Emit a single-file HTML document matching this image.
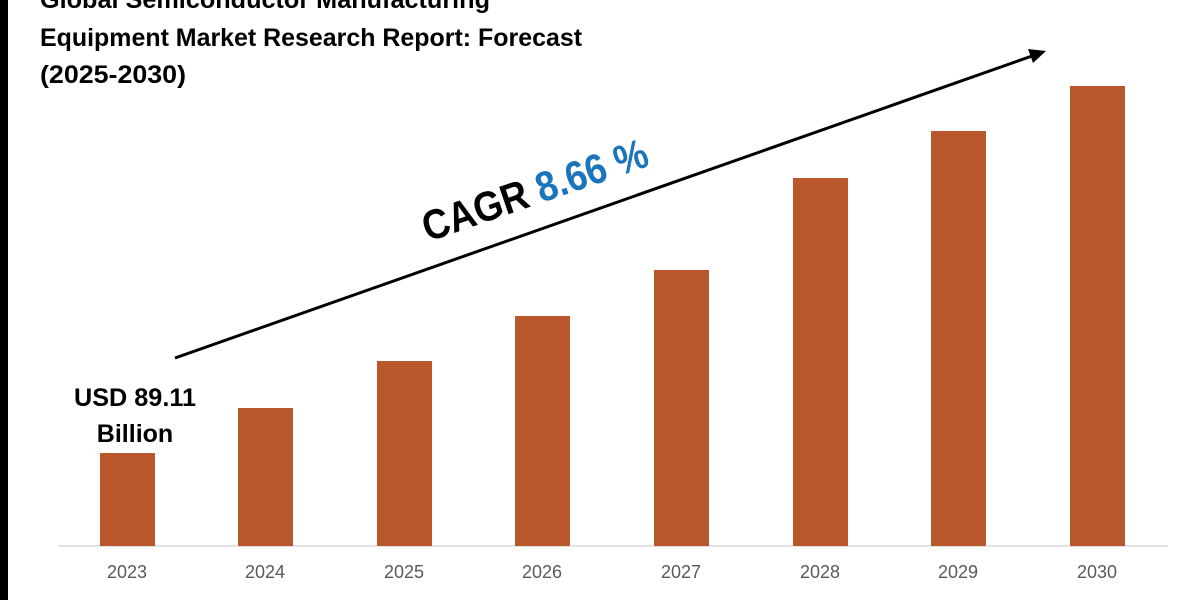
<!DOCTYPE html>
<html><head><meta charset="utf-8"><style>
html,body{margin:0;padding:0;background:#fff;}
body{width:1200px;height:600px;overflow:hidden;position:relative;font-family:"Liberation Sans",sans-serif;}
</style></head><body>
<svg width="1200" height="600" xmlns="http://www.w3.org/2000/svg" style="position:absolute;left:0;top:0">
<rect x="0" y="0" width="8" height="600" fill="#000"/>
<g font-family="Liberation Sans, sans-serif" font-weight="bold" font-size="25" fill="#000">
<text x="40" y="8" textLength="450" lengthAdjust="spacingAndGlyphs">Global Semiconductor Manufacturing</text>
<text x="40" y="46" textLength="542" lengthAdjust="spacingAndGlyphs">Equipment Market Research Report: Forecast</text>
<text x="40" y="83" textLength="146" lengthAdjust="spacingAndGlyphs">(2025-2030)</text>
</g>
<line x1="58" y1="546" x2="1168" y2="546" stroke="#d9d9d9" stroke-width="1.5"/>
<g fill="#b9582c">
<rect x="100" y="453" width="55" height="93"/>
<rect x="238" y="408" width="55" height="138"/>
<rect x="377" y="361" width="55" height="185"/>
<rect x="515" y="316" width="55" height="230"/>
<rect x="654" y="270" width="55" height="276"/>
<rect x="793" y="178" width="55" height="368"/>
<rect x="931" y="131" width="55" height="415"/>
<rect x="1070" y="86" width="55" height="460"/>
</g>
<g font-size="18" fill="#595959" text-anchor="middle">
<text x="127" y="578">2023</text><text x="265" y="578">2024</text><text x="404" y="578">2025</text><text x="542" y="578">2026</text>
<text x="681" y="578">2027</text><text x="820" y="578">2028</text><text x="958" y="578">2029</text><text x="1097" y="578">2030</text>
</g>
<g font-weight="bold" font-size="25" fill="#000" text-anchor="middle">
<text x="135" y="406" textLength="122" lengthAdjust="spacingAndGlyphs">USD 89.11</text>
<text x="135" y="442">Billion</text>
</g>
<line x1="175" y1="358" x2="1032" y2="56" stroke="#000" stroke-width="3"/>
<polygon points="1046,51 1028,49 1033,63" fill="#000"/>
<text transform="translate(428,242) rotate(-19)" font-weight="bold" font-size="42" textLength="236" lengthAdjust="spacingAndGlyphs"><tspan fill="#000">CAGR </tspan><tspan fill="#1a75bc">8.66 %</tspan></text>
</svg>
</body></html>
